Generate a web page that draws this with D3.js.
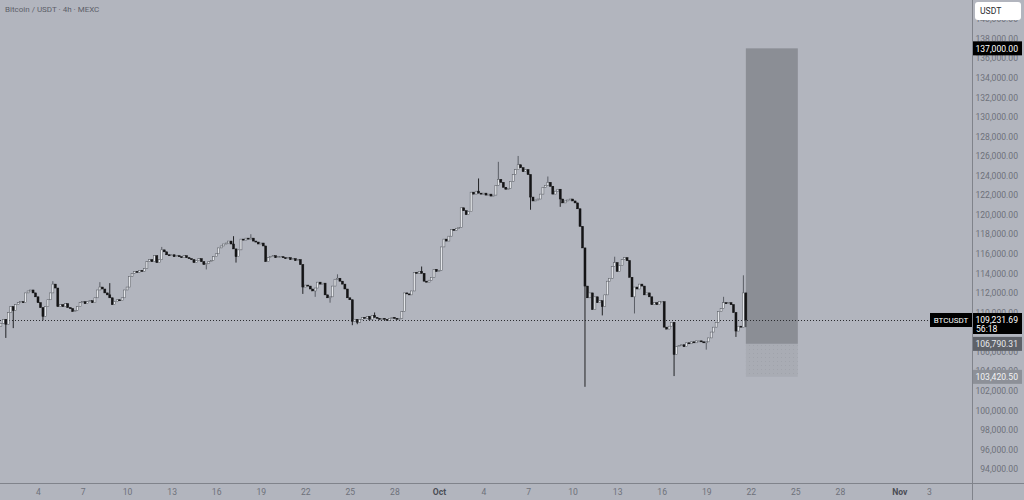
<!DOCTYPE html>
<html>
<head>
<meta charset="utf-8">
<script src="https://cdn.jsdelivr.net/npm/d3@7"></script>
<style>
  body { margin: 0; background: #b2b5be; }
  svg { display: block; font-family: Roboto, "Liberation Sans", sans-serif; }
</style>
</head>
<body>
<svg></svg>
<script>
// 4h candles, closes in thousands of USDT (open = previous close)
let firstOpen = 108.6;
let closes = [
  108.9,109.3,108.8,110.0, 110.6,110.2,110.8,111.0, 111.1,111.0,112.0,112.2, 112.3,112.0,111.6,111.0,
  110.5,109.6,110.6,111.3, 112.0,112.9,112.5,110.6, 110.8,110.6,110.9,110.5, 110.4,110.1,110.2,110.6,
  111.0,111.1,110.9,111.1, 111.2,111.0,111.5,112.3, 112.6,112.4,112.0,111.8, 111.5,110.8,111.1,111.3,
  111.2,111.5,112.3,112.6, 113.7,114.0,114.2,114.1, 114.3,114.2,114.5,115.2, 115.4,115.2,115.8,115.1,
  115.4,116.4,116.2,115.9, 115.8,115.9,115.7,115.8, 115.7,115.6,115.8,115.6,115.5,
  115.4,115.1,115.3,115.5, 115.2,114.9,115.0,115.2, 115.3,115.7,116.0,116.6, 116.8,117.0,117.1,117.3,
  117.0,116.5,115.7,116.4, 117.5,117.4,117.6,117.5, 117.6,117.3,117.2,117.0, 117.1,116.8,115.2,115.6,
  115.7,115.8,115.6,115.7, 115.7,115.6,115.5,115.6, 115.4,115.5,115.3,115.4, 114.9,112.6,112.8,112.7,
  112.4,112.2,112.5,113.1, 112.9,113.0,111.8,111.5, 111.6,112.7,113.4,113.5, 113.2,112.9,112.4,111.5,
  111.3,109.1,109.3,109.0, 109.3,109.5,109.4,109.6, 109.3,109.7,109.5,109.4,109.3,
  109.4,109.3,109.2,109.4, 109.5,109.4,109.3,109.4, 110.1,112.0,111.9,111.8, 112.2,114.1,114.0,114.2,
  114.0,113.2,113.1,113.3, 113.6,114.4,114.2,114.3, 116.7,117.5,117.3,117.8, 118.5,118.4,118.6,118.7,
  120.7,120.4,120.0,120.3, 122.3,122.1,122.4,122.2, 122.1,122.2,122.0,122.1, 121.9,122.0,123.0,123.6,
  123.3,122.8,122.6,122.7, 123.4,124.1,124.6,125.1, 124.8,124.4,124.6,124.1, 121.8,121.4,121.5,121.6,
  122.1,122.8,123.0,123.3, 122.9,122.1,122.4,122.6, 121.6,121.2,121.4,121.5,121.6,
  121.4,121.2,120.6,118.8, 116.6,112.7,111.5,112.0, 110.3,111.6,111.0,111.2, 110.6,111.8,113.2,113.5,
  114.7,115.1,114.2,114.8, 115.4,115.6,115.3,113.6, 111.6,112.6,112.4,112.9, 112.7,111.8,112.0,111.6,
  110.8,111.0,110.8,111.1, 111.1,108.5,108.3,108.6, 109.0,105.7,106.5,106.6, 106.7,106.5,106.9,106.8,
  107.0,106.9,107.1,107.1,107.0,
  106.9,107.0,107.4,108.0, 108.5,109.0,110.1,110.4, 111.0,110.9,111.0,110.8, 110.0,108.1,108.6,108.5,
  112.0,109.23169
];

// visible wicks beyond the body: [candle index, price in thousands]
let wickHighs = [[21,113.2],[40,113.1],[44,113.0],[65,116.7],[94,117.8],[101,118.0],[136,113.9],[151,110.0],
  [170,114.7],[193,123.7],[201,125.4],[209,126.0],[221,123.9],[248,115.7],[292,111.6],[300,113.8]];
let wickLows = [[2,107.4],[5,108.4],[17,109.2],[83,114.4],[95,115.1],[122,111.9],[127,111.6],[133,111.0],
  [142,108.7],[144,108.8],[214,120.5],[226,120.8],[236,102.4],[243,109.7],[256,109.9],[272,103.5],
  [285,106.2],[297,107.5],[301,108.5]];

let priceTicks = d3.range(94000, 140001, 2000);
let tickDates = ["2025-09-04","2025-09-07","2025-09-10","2025-09-13","2025-09-16","2025-09-19","2025-09-22",
  "2025-09-25","2025-09-28","2025-10-01","2025-10-04","2025-10-07","2025-10-10","2025-10-13","2025-10-16",
  "2025-10-19","2025-10-22","2025-10-25","2025-10-28","2025-11-01","2025-11-03"];
let tickLabels = ["4","7","10","13","16","19","22","25","28","Oct","4","7","10","13","16","19","22","25","28","Nov","3"];

let lastPrice = 109231.69;
let targetPrice = 137000;
let entryPrice = 106790.31;
let stopPrice = 103420.50;
let countdown = "56:18";

/***************************/

let width = 1024, height = 500;
let plotRight = 972, plotBottom = 483;
let labelRight = 1018;
let h4 = 4 * 3600 * 1000;
let t0 = Date.UTC(2025, 8, 1, 12);

let svg = d3.select("svg").attr("width", width).attr("height", height);

let xScale = d3.scaleUtc()
  .domain([new Date("2025-09-04T00:00:00Z"), new Date("2025-11-03T00:00:00Z")])
  .range([38, 929]);

let yScale = d3.scaleLinear()
  .domain([94000, 140000])
  .range([469, 19]);

let hiMap = new Map(wickHighs), loMap = new Map(wickLows);
let candles = closes.map((c, i) => {
  let o = i ? closes[i - 1] : firstOpen;
  let hi = Math.max(o, c, hiMap.get(i) || 0);
  let lo = Math.min(o, c, loMap.has(i) ? loMap.get(i) : Infinity);
  return {t: new Date(t0 + i * h4), o: o * 1000, c: c * 1000, h: hi * 1000, l: lo * 1000};
});

let plot = svg.append("g").attr("class", "plot");

// position box (target / entry / stop)
let lastT = candles[candles.length - 1].t;
let boxX0 = xScale(lastT), boxX1 = xScale(new Date(+lastT + 3.5 * 24 * 3600 * 1000));

let defs = svg.append("defs");
let pat = defs.append("pattern").attr("id", "dots").attr("width", 4).attr("height", 4)
  .attr("patternUnits", "userSpaceOnUse");
pat.append("rect").attr("width", 4).attr("height", 4).attr("fill", "#a9acb4");
pat.append("rect").attr("x", 1).attr("y", 1).attr("width", 1).attr("height", 1).attr("fill", "#a0a3ab");

plot.append("rect")
  .attr("x", boxX0).attr("width", boxX1 - boxX0)
  .attr("y", yScale(targetPrice)).attr("height", yScale(entryPrice) - yScale(targetPrice))
  .attr("fill", "#8b8e95");
plot.append("rect")
  .attr("x", boxX0).attr("width", boxX1 - boxX0)
  .attr("y", yScale(entryPrice)).attr("height", yScale(stopPrice) - yScale(entryPrice))
  .attr("fill", "url(#dots)");

// last price dotted line
plot.append("line")
  .attr("x1", 0).attr("x2", 930)
  .attr("y1", Math.round(yScale(lastPrice)) + 0.5).attr("y2", Math.round(yScale(lastPrice)) + 0.5)
  .attr("stroke", "#2b2c30").attr("stroke-dasharray", "1,2");

// candles
let cg = plot.selectAll("g.candle").data(candles).join("g").attr("class", "candle");
cg.append("line")
  .attr("x1", d => xScale(d.t)).attr("x2", d => xScale(d.t))
  .attr("y1", d => yScale(d.h)).attr("y2", d => yScale(d.l))
  .attr("stroke", d => d.c >= d.o ? "#5b5e66" : "#222326")
  .attr("stroke-width", 1);
cg.append("rect")
  .attr("x", d => xScale(d.t) - 1)
  .attr("width", 2)
  .attr("y", d => yScale(Math.max(d.o, d.c)))
  .attr("height", d => Math.max(1, Math.abs(yScale(d.o) - yScale(d.c))))
  .attr("fill", d => d.c >= d.o ? "#e4e6ea" : "#141416")
  .attr("stroke", d => d.c >= d.o ? "#55585f" : "#141416")
  .attr("stroke-width", 0.5);

// title
svg.append("text")
  .attr("x", 5).attr("y", 12)
  .attr("font-size", 8).attr("fill", "#5d6069")
  .text("Bitcoin / USDT · 4h · MEXC");

// axes lines
svg.append("line").attr("x1", plotRight + 0.5).attr("x2", plotRight + 0.5).attr("y1", 0).attr("y2", height)
  .attr("stroke", "#80838b");
svg.append("line").attr("x1", 0).attr("x2", width).attr("y1", plotBottom + 0.5).attr("y2", plotBottom + 0.5)
  .attr("stroke", "#80838b");

// price axis (the label hidden under the last price tag is left out)
let tagPrices = [lastPrice, entryPrice, stopPrice, targetPrice];
let yAxis = d3.axisRight(yScale)
  .tickValues(priceTicks.filter(p => !(p > lastPrice - 1400 && p < lastPrice)))
  .tickFormat(d3.format(",.2f"))
  .tickSize(0);
let ya = svg.append("g").attr("transform", `translate(${plotRight},0)`).call(yAxis);
ya.select(".domain").remove();
ya.selectAll("text")
  .attr("x", labelRight - plotRight).attr("text-anchor", "end")
  .attr("font-size", 8.6).attr("fill", "#6e717a").attr("font-family", "Roboto, sans-serif");

// time axis
let xAxis = d3.axisBottom(xScale)
  .tickValues(tickDates.map(d => new Date(d + "T00:00:00Z")))
  .tickFormat((d, i) => tickLabels[i])
  .tickSize(0)
  .tickPadding(6);
let xa = svg.append("g").attr("transform", `translate(0,${plotBottom})`).call(xAxis);
xa.select(".domain").remove();
xa.selectAll("text").attr("font-size", 8.6).attr("font-family", "Roboto, sans-serif")
  .attr("font-weight", (d, i) => isNaN(+tickLabels[i]) ? "bold" : "normal")
  .attr("fill", (d, i) => isNaN(+tickLabels[i]) ? "#4a4d55" : "#6e717a");

// currency tag
svg.append("rect").attr("x", 975).attr("y", 2).attr("width", 46).attr("height", 18).attr("rx", 3)
  .attr("fill", "#ffffff");
svg.append("text").attr("x", 980).attr("y", 14).attr("font-size", 8.6).attr("fill", "#2a2b30").text("USDT");

// price labels on the axis
function priceTag(price, fill, color) {
  let y = yScale(price);
  svg.append("rect").attr("x", plotRight + 1).attr("y", y - 7).attr("width", 49).attr("height", 14)
    .attr("fill", fill);
  svg.append("text").attr("x", labelRight).attr("y", y + 3.2).attr("text-anchor", "end")
    .attr("font-size", 8.6).attr("fill", color)
    .text(d3.format(",.2f")(price));
}
priceTag(targetPrice, "#000000", "#ffffff");
priceTag(entryPrice, "#5e6168", "#e8e9ec");
priceTag(stopPrice, "#8d9098", "#f2f3f5");

// last price tag with countdown
let ly = yScale(lastPrice);
svg.append("rect").attr("x", 930).attr("y", ly - 7).attr("width", 42).attr("height", 14).attr("fill", "#000");
svg.append("text").attr("x", 951).attr("y", ly + 3).attr("text-anchor", "middle")
  .attr("font-size", 8).attr("fill", "#fff").text("BTCUSDT");
svg.append("rect").attr("x", plotRight + 1).attr("y", ly - 7).attr("width", 49).attr("height", 21).attr("fill", "#000");
svg.append("text").attr("x", labelRight).attr("y", ly + 3.2).attr("text-anchor", "end")
  .attr("font-size", 8.6).attr("fill", "#fff")
  .text(d3.format(",.2f")(lastPrice));
svg.append("text").attr("x", plotRight + 4).attr("y", ly + 12).attr("font-size", 8.6).attr("fill", "#fff")
  .text(countdown);
</script>
</body>
</html>
